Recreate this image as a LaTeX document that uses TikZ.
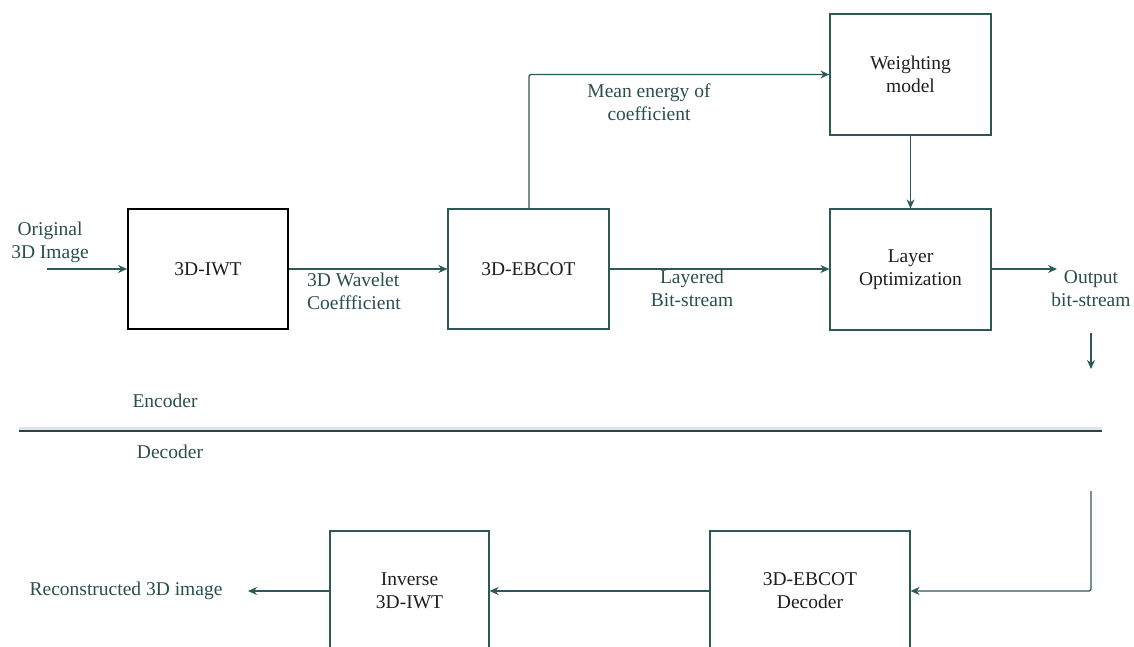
\documentclass[tikz,border=0pt]{standalone}
\usepackage{fontspec}
\setmainfont{Liberation Serif}[Ligatures=TeX]
\newfontfamily\timesfam{Liberation Serif}
\usetikzlibrary{arrows.meta}
\definecolor{wire}{HTML}{2D5858}
\definecolor{labelc}{HTML}{2A4E4E}
\definecolor{boxtext}{HTML}{1E1E1E}
\begin{document}
\begin{tikzpicture}[x=1pt,y=-1pt,
  block/.style={draw=wire, line width=1.2pt, minimum height=120pt, minimum width=160pt,
    align=center, text=boxtext, font=\timesfam\fontsize{19.5}{23}\selectfont, inner sep=0pt},
  lbl/.style={align=center, text=labelc, font=\timesfam\fontsize{19.5}{23}\selectfont, inner sep=0pt},
  flow/.style={draw=wire, line width=1.3pt, -{Stealth[length=9pt,width=8pt]}},
  wire/.style={draw=wire, line width=1.3pt}]
\useasboundingbox (0,0) rectangle (1134,647);
\clip (0,0) rectangle (1134,647);

% encoder blocks
\node[block, draw=black, line width=1.8pt] (iwt) at (208,269) {3D-IWT};
\node[block, minimum width=161pt] (ebcot) at (528.5,269) {3D-EBCOT};
\node[block, minimum width=161pt, minimum height=121pt] (weight) at (910.5,74.5) {Weighting\\model};
\node[block, minimum width=161pt, minimum height=121pt] (layer) at (910.5,269.5) {Layer\\Optimization};

% decoder blocks
\node[block, minimum width=159pt] (inv) at (409.5,591) {Inverse\\3D-IWT};
\node[block, minimum width=200pt] (dec) at (810,591) {3D-EBCOT\\Decoder};

% labels
\node[lbl] (orig) at (50,242) {Original\\3D Image};
\node[lbl, anchor=west, align=left] (wav) at (307,291) {3D Wavelet\\Coeffficient};
\node[lbl] (mean) at (649,102) {Mean energy of\\coefficient};
\node[lbl] (lay) at (692,288) {Layered\\Bit-stream};
\node[lbl] (out) at (1091,289) {Output\\bit-stream};
\node[lbl] (enc) at (165,401) {Encoder};
\node[lbl] (decl) at (170,452) {Decoder};
\node[lbl] (recon) at (126,591) {Reconstructed 3D image};

% free ends of connectors
\coordinate (inStart) at (47,269);
\coordinate (outEnd) at (1057,269);
\coordinate (downStart) at (1091,333);
\coordinate (downEnd) at (1091,369);
\coordinate (retStart) at (1091,491);
\coordinate (retCorner) at (1091,591);
\coordinate (reconEnd) at (248,591);
\coordinate (sepL) at (19,431);
\coordinate (sepR) at (1102,431);

% encoder connectors
\draw[flow] (inStart) -- (iwt.west);
\draw[flow] (iwt.east) -- (iwt.east -| ebcot.west);
\draw[flow] (ebcot.east) -- (ebcot.east -| layer.west);
\draw[flow, rounded corners=2pt] (529,209) -- (529,74.5) -- (weight.west);
\draw[flow] (weight.south) -- (layer.north);
\draw[flow] (layer.east |- outEnd) -- (outEnd);
\draw[flow] (downStart) -- (downEnd);

% encoder / decoder separator
\draw[line width=3pt, black!18, opacity=0.6] ([yshift=3pt]sepL) -- ([yshift=3pt]sepR);
\draw[draw=wire!80!black, line width=1.8pt] (sepL) -- (sepR);

% decoder connectors
\draw[flow, rounded corners=2pt] (retStart) -- (retCorner) -- (dec.east);
\draw[flow] (dec.west) -- (inv.east);
\draw[flow] (inv.west) -- (reconEnd);
\end{tikzpicture}
\end{document}
